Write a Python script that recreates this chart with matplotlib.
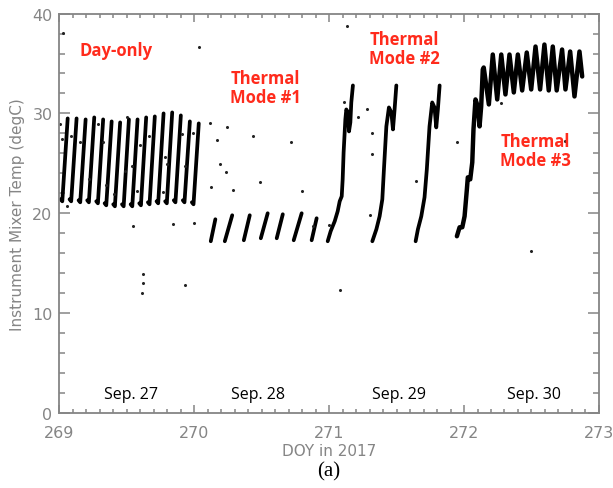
import numpy as np
import matplotlib
matplotlib.use("Agg")
import matplotlib.pyplot as plt
from matplotlib.ticker import MultipleLocator

# ---- data (DOY, degC) ----
# day-only mode: one rising stroke per orbit
day_t_start = [269.009, 269.075, 269.142, 269.206, 269.273, 269.335, 269.399, 269.464,
               269.528, 269.592, 269.656, 269.720, 269.784, 269.848, 269.915, 269.982]
day_t_bot = [269.021, 269.087, 269.154, 269.218, 269.285, 269.347, 269.411, 269.476,
             269.540, 269.604, 269.668, 269.732, 269.796, 269.860, 269.927, 269.994]
day_t_top = [269.061, 269.127, 269.194, 269.258, 269.324, 269.387, 269.450, 269.515,
             269.579, 269.643, 269.707, 269.772, 269.836, 269.900, 269.967, 270.033]
day_y_bot = [21.2, 21.2, 21.1, 21.1, 21.0, 20.8, 20.7, 20.7,
             20.7, 20.8, 20.9, 21.0, 21.0, 21.1, 21.1, 20.9]
day_y_top = [29.5, 29.5, 29.4, 29.6, 29.4, 29.2, 29.1, 29.4,
             29.4, 29.6, 29.7, 30.0, 30.1, 29.8, 29.2, 29.0]

# thermal mode #1 strokes
m1_t_bot = [270.122, 270.226, 270.367, 270.493, 270.611, 270.737, 270.870]
m1_t_top = [270.156, 270.281, 270.411, 270.544, 270.656, 270.796, 270.907]
m1_y_bot = [17.2, 17.2, 17.3, 17.5, 17.5, 17.3, 17.3]
m1_y_top = [19.4, 19.8, 19.8, 20.0, 19.9, 20.0, 19.5]

# thermal mode #2 warm-ups
m2a_t = [270.989, 271.011, 271.041, 271.063, 271.078, 271.093, 271.100, 271.107,
         271.120, 271.127, 271.139, 271.147, 271.157, 271.164, 271.176]
m2a_y = [17.2, 18.2, 19.2, 20.2, 21.2, 21.7, 23.4, 26.1,
         29.4, 30.4, 30.1, 28.2, 29.1, 31.1, 32.8]
m2b_t = [271.320, 271.350, 271.374, 271.394, 271.406, 271.424, 271.443, 271.461,
         271.473, 271.485, 271.498]
m2b_y = [17.2, 18.4, 19.7, 21.4, 24.4, 28.7, 30.6, 30.1, 28.4, 30.4, 32.8]
m2c_t = [271.641, 271.658, 271.683, 271.707, 271.724, 271.744, 271.764, 271.781,
         271.794, 271.806, 271.819]
m2c_y = [17.2, 18.4, 19.7, 21.6, 24.4, 28.7, 31.1, 30.6, 28.6, 30.4, 32.8]

# thermal mode #3
m3_t = [271.947, 271.967, 271.987, 272.004, 272.021, 272.028, 272.046, 272.061,
        272.070, 272.085, 272.102, 272.115, 272.127, 272.139, 272.146, 272.184,
        272.213, 272.246, 272.276, 272.307, 272.337, 272.369, 272.399, 272.431,
        272.465, 272.498, 272.530, 272.564, 272.596, 272.628, 272.658, 272.687,
        272.727, 272.752, 272.787, 272.819, 272.856, 272.876]
m3_y = [17.7, 18.6, 18.6, 19.7, 22.4, 23.6, 23.4, 25.1,
        28.4, 31.4, 30.7, 28.7, 30.7, 34.4, 34.6, 30.9,
        35.9, 31.4, 35.9, 31.9, 35.9, 32.1, 35.9, 32.3,
        36.1, 32.4, 36.7, 32.4, 36.9, 32.3, 36.7, 32.3,
        36.4, 32.4, 36.2, 31.7, 36.2, 33.7]

# stray samples
dot_t = [269.026, 270.033, 270.115, 270.246, 270.436, 270.720, 270.169, 270.194,
         270.233, 270.127, 270.287, 270.485, 270.801, 269.547, 269.839, 269.999,
         269.016, 269.083, 269.152, 269.287, 269.324, 269.498, 269.596, 269.665,
         269.781, 269.794, 269.905, 269.991, 269.930, 269.485, 269.535, 269.221,
         269.344, 269.406, 269.576, 269.769, 269.053, 269.616, 269.616, 269.609,
         269.930, 271.083, 272.493, 271.135, 271.110, 271.216, 271.283, 271.320,
         271.320, 271.300, 271.641, 271.950, 272.276, 270.880, 270.999, 272.752,
         269.004]
dot_y = [38.1, 36.7, 29.0, 28.6, 27.7, 27.1, 27.3, 24.9,
         24.1, 22.6, 22.3, 23.1, 22.2, 18.7, 18.9, 19.0,
         27.4, 27.7, 27.1, 28.9, 27.1, 29.6, 26.8, 27.7,
         25.6, 24.9, 27.9, 28.0, 24.7, 24.2, 24.7, 23.4,
         22.8, 21.9, 22.2, 22.1, 20.7, 13.9, 13.0, 12.0,
         12.8, 12.3, 16.2, 38.8, 31.1, 29.6, 30.4, 28.0,
         25.9, 19.8, 23.2, 27.1, 31.0, 18.7, 18.8, 27.2,
         28.9]

mode_labels = ["Day-only", "Thermal\nMode #1", "Thermal\nMode #2", "Thermal\nMode #3"]
mode_x = [269.42, 270.53, 271.56, 272.53]
mode_y = [36.4, 32.6, 36.5, 26.3]
date_labels = ["Sep. 27", "Sep. 28", "Sep. 29", "Sep. 30"]
date_x = [269.53, 270.47, 271.52, 272.52]

gray = "#858585"
lw = 2.7

fig = plt.figure(figsize=(6.13, 4.89), dpi=100)
ax = fig.add_axes([0.097, 0.1534, 0.880, 0.8168])

for i in range(len(day_t_top)):
    ax.plot([day_t_start[i], day_t_bot[i], day_t_top[i]],
            [day_y_bot[i] + 0.2, day_y_bot[i], day_y_top[i]],
            color="black", lw=lw, solid_capstyle="round")
for i in range(len(m1_t_top)):
    ax.plot([m1_t_bot[i], m1_t_top[i]], [m1_y_bot[i], m1_y_top[i]],
            color="black", lw=lw, solid_capstyle="round")
for t, y in [(m2a_t, m2a_y), (m2b_t, m2b_y), (m2c_t, m2c_y)]:
    ax.plot(t, y, color="black", lw=lw, solid_capstyle="round", solid_joinstyle="round")
ax.plot(m3_t, m3_y, color="black", lw=3.2, solid_capstyle="round", solid_joinstyle="round")
ax.plot(dot_t, dot_y, ls="none", marker="o", ms=1.2, color="#222222")

for s, x, y in zip(mode_labels, mode_x, mode_y):
    ax.text(x, y, s, color="#ff2b1c", fontsize=12, fontweight="bold",
            family="Open Sans", ha="center", va="center", linespacing=1.1)
for s, x in zip(date_labels, date_x):
    ax.text(x, 1.9, s, color="black", fontsize=11.5, family="Open Sans",
            ha="center", va="center")

ax.set_xlim(269, 273)
ax.set_ylim(0, 40)
ax.xaxis.set_major_locator(MultipleLocator(1))
ax.xaxis.set_minor_locator(MultipleLocator(0.1))
ax.yaxis.set_major_locator(MultipleLocator(10))
ax.yaxis.set_minor_locator(MultipleLocator(2))
ax.tick_params(axis="x", which="both", direction="in", top=True, colors=gray,
               labelsize=11.5, pad=9)
ax.tick_params(axis="y", which="both", direction="in", right=True, colors=gray,
               labelsize=11.5, pad=5)
ax.tick_params(axis="x", which="major", length=5.5, width=1.1)
ax.tick_params(axis="x", which="minor", length=2.6, width=1.1)
ax.tick_params(axis="y", which="major", length=8, width=1.1)
ax.tick_params(axis="y", which="minor", length=4.3, width=1.1)
for sp in ax.spines.values():
    sp.set_color(gray)
    sp.set_linewidth(1.3)

ax.set_xlabel("DOY in 2017", color=gray, fontsize=11, labelpad=2)
ax.set_ylabel("Instrument Mixer Temp (degC)", color=gray, fontsize=11, labelpad=5)
fig.text(0.537, 0.035, "(a)", family="Liberation Serif", fontsize=15,
         ha="center", va="center", color="black")

fig.savefig("out.png", dpi=100)
